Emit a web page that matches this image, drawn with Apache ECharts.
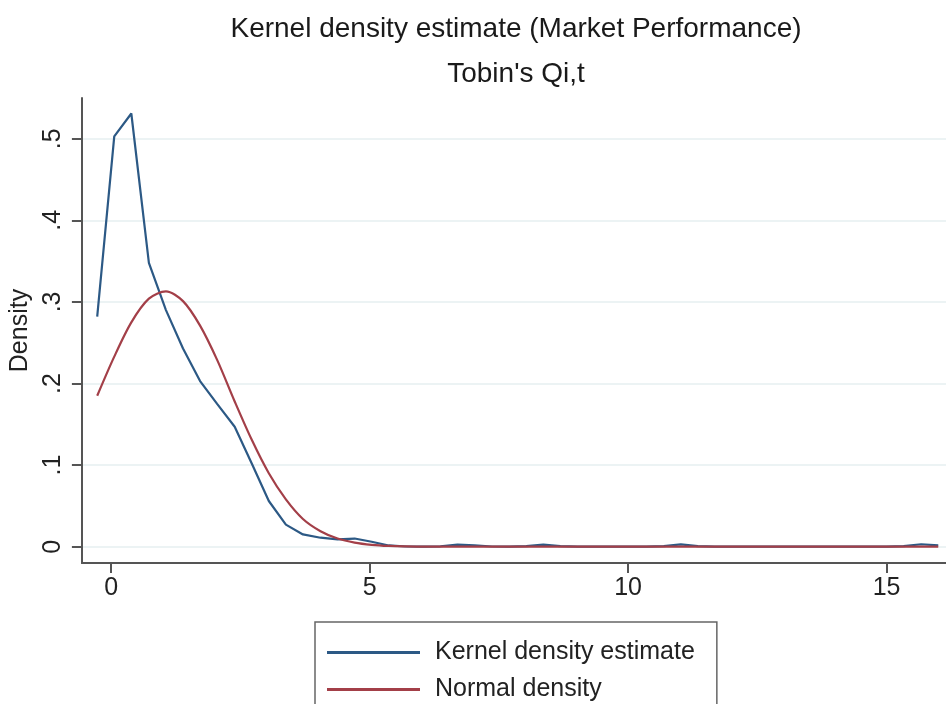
<!DOCTYPE html>
<html>
<head>
<meta charset="utf-8">
<script src="https://cdn.jsdelivr.net/npm/echarts@6/dist/echarts.min.js"></script>
<style>
  html, body { margin: 0; padding: 0; overflow: hidden; background: #fff; }
  /* larger than the window: title centres over the plot, legend box runs off the bottom */
  #main { width: 1032px; height: 760px; }
</style>
</head>
<body>
<div id="main"></div>
<script>
// estimation points (x of Tobin's Q)
var qGrid = [-0.27, 0.06, 0.39, 0.73, 1.06, 1.39, 1.72, 2.05, 2.39, 2.72,
  3.05, 3.38, 3.71, 4.05, 4.38, 4.71, 5.04, 5.37, 5.71, 6.04,
  6.37, 6.70, 7.03, 7.37, 7.70, 8.03, 8.36, 8.69, 9.03, 9.36,
  9.69, 10.02, 10.35, 10.69, 11.02, 11.35, 11.68, 12.01, 12.35, 12.68,
  13.01, 13.34, 13.67, 14.01, 14.34, 14.67, 15.00, 15.33, 15.67, 16.00];

// kernel density estimate
var kdeVals = [0.282, 0.503, 0.531, 0.348, 0.290, 0.243, 0.203, 0.175, 0.147, 0.102,
  0.056, 0.027, 0.015, 0.011, 0.009, 0.010, 0.006, 0.0015, 0.0002, 0,
  0.0005, 0.0025, 0.0015, 0.0002, 0, 0.0006, 0.0025, 0.0008, 0, 0,
  0, 0, 0, 0.0008, 0.0028, 0.0008, 0, 0, 0, 0,
  0, 0, 0, 0, 0, 0, 0, 0.0008, 0.003, 0.0015];

// normal density
var normVals = [0.185, 0.233, 0.275, 0.304, 0.313, 0.301, 0.271, 0.229, 0.178, 0.131,
  0.090, 0.058, 0.034, 0.019, 0.010, 0.005, 0.0023, 0.0009, 0.0003, 0,
  0, 0, 0, 0, 0, 0, 0, 0, 0, 0,
  0, 0, 0, 0, 0, 0, 0, 0, 0, 0,
  0, 0, 0, 0, 0, 0, 0, 0, 0, 0];

var xTicks = [0, 5, 10, 15];
var yTicks = [0, 0.1, 0.2, 0.3, 0.4, 0.5];

var font = "'Liberation Sans', Arial, sans-serif";
var chart = echarts.init(document.getElementById('main'));

function pairs(xs, ys) {
  return xs.map(function (x, i) { return [x, ys[i]]; });
}

var option = {
  animation: false,
  textStyle: { fontFamily: font },
  title: {
    text: 'Kernel density estimate (Market Performance)',
    subtext: "Tobin's Qi,t",
    left: 'center',
    top: 10,
    itemGap: 17,
    textStyle: { fontSize: 28, fontWeight: 'normal', color: '#1a1a1a', fontFamily: font },
    subtextStyle: { fontSize: 28, color: '#1a1a1a', fontFamily: font }
  },
  legend: {
    orient: 'vertical',
    left: 315,
    top: 622,
    padding: [18, 22, 14, 12],
    icon: 'rect',
    itemWidth: 93,
    itemHeight: 3,
    itemGap: 12,
    borderColor: '#666',
    borderWidth: 1.5,
    textStyle: { fontSize: 25, color: '#222', padding: [0, 0, 0, 10], fontFamily: font },
    data: ['Kernel density estimate', 'Normal density']
  },
  grid: { left: 80, right: 86, top: 98, bottom: 197 },
  xAxis: {
    type: 'value',
    min: -0.566,
    max: 16.15,
    axisLine: { show: true, onZero: false, lineStyle: { color: '#555', width: 2 } },
    axisTick: { show: true, length: 10, customValues: xTicks, lineStyle: { color: '#555', width: 2 } },
    axisLabel: { customValues: xTicks, fontSize: 25, color: '#222', margin: 13 },
    splitLine: { show: false }
  },
  yAxis: {
    type: 'value',
    min: -0.02,
    max: 0.55,
    name: 'Density',
    nameLocation: 'middle',
    nameGap: 44,
    nameRotate: 90,
    nameTextStyle: { fontSize: 25, color: '#222' },
    axisLine: { show: true, onZero: false, lineStyle: { color: '#555', width: 2 } },
    axisTick: { show: true, length: 10, customValues: yTicks, lineStyle: { color: '#555', width: 2 } },
    axisLabel: {
      customValues: yTicks,
      rotate: 90,
      fontSize: 25,
      color: '#222',
      margin: 16,
      formatter: function (v) { return v === 0 ? '0' : String(+v.toFixed(1)).replace(/^0/, ''); }
    },
    splitLine: { show: true, lineStyle: { color: '#e6eff1', width: 1.5 } }
  },
  series: [
    {
      name: 'Kernel density estimate',
      type: 'line',
      symbol: 'none',
      lineStyle: { color: '#2c5985', width: 2.2 },
      itemStyle: { color: '#2c5985' },
      data: pairs(qGrid, kdeVals)
    },
    {
      name: 'Normal density',
      type: 'line',
      symbol: 'none',
      smooth: 0.3,
      lineStyle: { color: '#a33f48', width: 2.2 },
      itemStyle: { color: '#a33f48' },
      data: pairs(qGrid, normVals)
    }
  ]
};
chart.setOption(option);
</script>
</body>
</html>
